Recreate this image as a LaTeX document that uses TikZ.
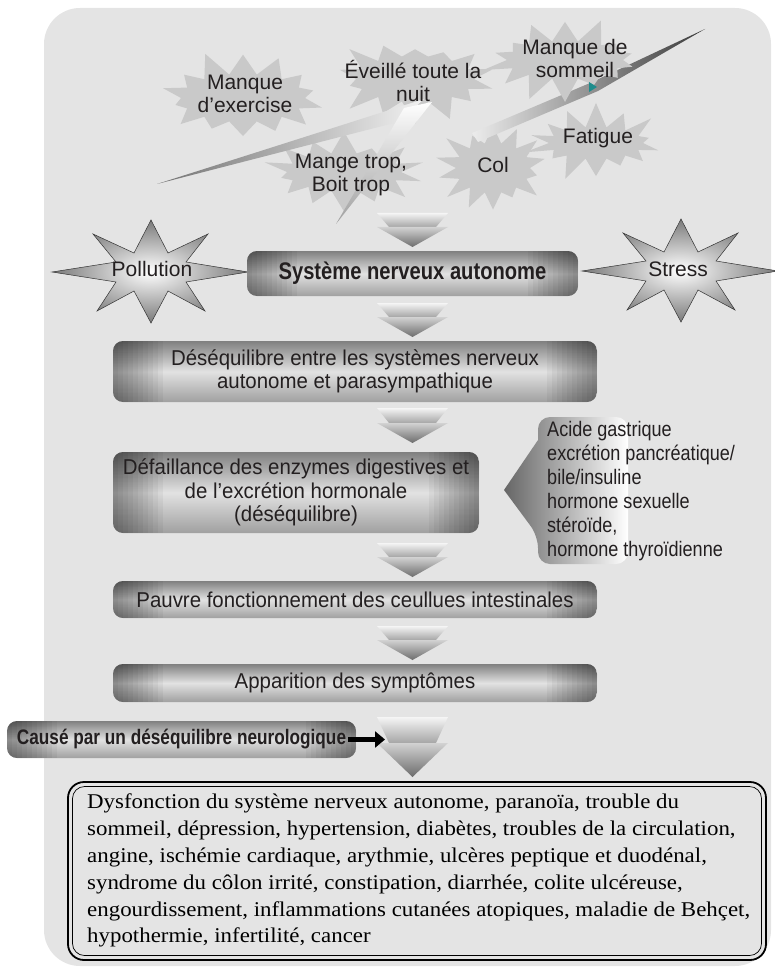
\documentclass[tikz,border=0pt]{standalone}
\usepackage{fontspec}
\setmainfont{Liberation Sans}
\newfontfamily\boxfont[FakeStretch=0.95]{Liberation Sans}
\newfontfamily\acfont[FakeStretch=0.86]{Liberation Sans}
\newfontfamily\sysfont[FakeStretch=0.84]{Liberation Sans}
\newfontfamily\caufont[FakeStretch=0.82]{Liberation Sans}
\newfontfamily\serfont[FakeStretch=1.09]{Liberation Serif}
\usetikzlibrary{shapes.symbols,arrows.meta}
\definecolor{bg}{HTML}{E4E4E4}
\definecolor{cloud}{HTML}{C9C9C9}
\definecolor{boxtop}{HTML}{808080}
\definecolor{boxmid}{HTML}{E2E2E2}
\definecolor{boxbot}{HTML}{A0A0A0}
\definecolor{teal1}{HTML}{1E8C8C}
\definecolor{txt}{HTML}{231F20}
\tikzset{
  cloudstar/.style={starburst, fill=cloud, draw=none, inner sep=0pt, starburst points=14, starburst point height=26pt},
  cloudtxt/.style={align=center, inner sep=0pt, text=txt, font=\fontsize{21}{23}\selectfont},
  gbox/.style={rectangle, rounded corners=10pt, inner sep=0pt, align=center, text=txt,
    top color=boxtop, bottom color=boxbot, middle color=boxmid,
    font=\boxfont\fontsize{21.5}{23}\selectfont,
    path picture={
      \foreach \i in {1,...,10} {
        \fill[black, opacity=0.045, sharp corners] (path picture bounding box.north west) rectangle ([xshift={5pt*\i}]path picture bounding box.south west);
        \fill[black, opacity=0.045, sharp corners] ([xshift={-5pt*\i}]path picture bounding box.north east) rectangle (path picture bounding box.south east);
      }
    }},
  pics/darrow/.style 2 args={code={
    \shade[top color=white!92!gray, bottom color=gray!70] (-35.5,0) -- (35.5,0) -- (23.5,#1) -- (-23.5,#1) -- cycle;
    \shade[top color=gray!35, bottom color=gray!85!black] (-35.5,#1) -- (35.5,#1) -- (0,#1+#2) -- cycle;
  }},
  pics/bigstar/.style={code={
    \shade[inner color=white, outer color=gray!95!black, draw=gray!40!black, line width=0.5pt]
      (0,-52) -- (17,-19) -- (57,-38) -- (35,-10) -- (97,0) -- (35,10) -- (54,39) -- (17,19) --
      (0,51) -- (-17,19) -- (-54,39) -- (-35,10) -- (-99,0) -- (-35,-10) -- (-58,-38) -- (-17,-19) -- cycle;
  }}
}
\begin{document}
\begin{tikzpicture}[x=1pt, y=-1pt]
\useasboundingbox (0,0) rectangle (774,968);
\fill[bg, rounded corners=36pt] (44,8) rectangle (771,966);

% cloud stars
\node[cloudstar, minimum width=176pt, minimum height=100pt, random starburst=11] (sex) at (243,98) {};
\node[cloudstar, minimum width=170pt, minimum height=98pt, random starburst=23] (sev) at (415,79) {};
\node[cloudstar, minimum width=166pt, minimum height=90pt, random starburst=37] (smt) at (344,172) {};
\node[cloudstar, minimum width=126pt, minimum height=102pt, random starburst=41] (scol) at (493,168) {};
\node[cloudstar, minimum width=146pt, minimum height=84pt, random starburst=53] (sfat) at (596,143) {};

% wedges
\shade[left color=gray!90!black, right color=white!90!gray] (157,184) -- (424,99) -- (398,122) -- cycle;
\shade[top color=white, bottom color=gray!75] (404,108) -- (432,102) -- (336,224) -- cycle;
\shade[left color=white!85!gray, right color=gray!45!black] (705,29) -- (598,91) -- (478,142) -- (472,133) -- (590,83) -- cycle;

\node[cloudstar, minimum width=168pt, minimum height=90pt, random starburst=67] (ssom) at (565,60) {};
\fill[teal1] (589,82) -- (597,87) -- (589,92) -- cycle;

% cloud texts
\node[cloudtxt] (tex) at (245,94) {Manque\\d’exercise};
\node[cloudtxt] (tev) at (413,81) {Éveillé toute la\\nuit};
\node[cloudtxt] (tsom) at (575,58) {Manque de\\sommeil};
\node[cloudtxt] (tmt) at (351,175) {Mange trop,\\Boit trop};
\node[cloudtxt] (tcol) at (493,165) {Col};
\node[cloudtxt] (tfat) at (598,138) {Fatigue};

% big stars
\pic at (151,272) {bigstar};
\pic at (681,271) {bigstar};
\node[cloudtxt] (pollution) at (152,269) {Pollution};
\node[cloudtxt] (stress) at (678,269) {Stress};

% down arrows
\pic at (412.5,213) {darrow={14}{20}};
\pic at (412.5,303) {darrow={14}{20}};
\pic at (412.5,408) {darrow={15}{20}};
\pic at (412.5,543) {darrow={14}{20}};
\pic at (412.5,626) {darrow={14}{20}};
\pic at (412.5,717) {darrow={26}{34}};

% boxes
\node[gbox, minimum width=331pt, minimum height=45pt, font=\sysfont\bfseries\fontsize{24}{26}\selectfont] (sys) at (412.5,273.5) {Système nerveux autonome};
\node[gbox, minimum width=484pt, minimum height=61pt] (des) at (355,371.5) {Déséquilibre entre les systèmes nerveux\\autonome et parasympathique};
\node[gbox, minimum width=366pt, minimum height=81pt, font=\boxfont\fontsize{21.5}{23.5}\selectfont] (def) at (296,492.5) {Défaillance des enzymes digestives et\\de l’excrétion hormonale\\(déséquilibre)};
\node[gbox, minimum width=484pt, minimum height=37pt] (pau) at (355,599.5) {Pauvre fonctionnement des ceullues intestinales};
\node[gbox, minimum width=484pt, minimum height=38pt] (app) at (355,683) {Apparition des symptômes};
\node[gbox, minimum width=349pt, minimum height=37pt, font=\caufont\bfseries\fontsize{21}{23}\selectfont] (cau) at (181.5,739.5) {Causé par un déséquilibre neurologique};

% acide pointer
\shade[left color=gray!80!black, right color=white] (504,490) -- (538,440) [rounded corners=12pt] -- (538,417) -- (628,417) -- (628,564) -- (538,564) -- (538,536) [sharp corners] -- cycle;
\node[anchor=north west, inner sep=0pt, align=left, text=txt, font=\acfont\fontsize{21}{24}\selectfont] (acide) at (547,421)
  {Acide gastrique\\excrétion pancréatique/\\bile/insuline\\hormone sexuelle\\stéroïde,\\hormone thyroïdienne};

% black arrow
\coordinate (causeend) at (385,739.5);
\draw[black, line width=5pt, -{Triangle[length=10pt, width=16pt]}] ([xshift=-8pt]cau.east) -- (causeend);

% final frame
\node[draw=black, line width=1.8pt, rounded corners=16pt, minimum width=698pt, minimum height=178pt, inner sep=0pt] (frame) at (417,871) {};
\node[draw=black, line width=0.7pt, rounded corners=12pt, minimum width=689pt, minimum height=169pt, inner sep=0pt] (frameinner) at (417,871) {};
\node[anchor=north west, inner sep=0pt, align=left, text=black, font=\serfont\fontsize{21}{26.8}\selectfont] (symp) at (87,794)
  {Dysfonction du système nerveux autonome, paranoïa, trouble du\\
   sommeil, dépression, hypertension, diabètes, troubles de la circulation,\\
   angine, ischémie cardiaque, arythmie, ulcères peptique et duodénal,\\
   syndrome du côlon irrité, constipation, diarrhée, colite ulcéreuse,\\
   engourdissement, inflammations cutanées atopiques, maladie de Behçet,\\
   hypothermie, infertilité, cancer};
\end{tikzpicture}
\end{document}
